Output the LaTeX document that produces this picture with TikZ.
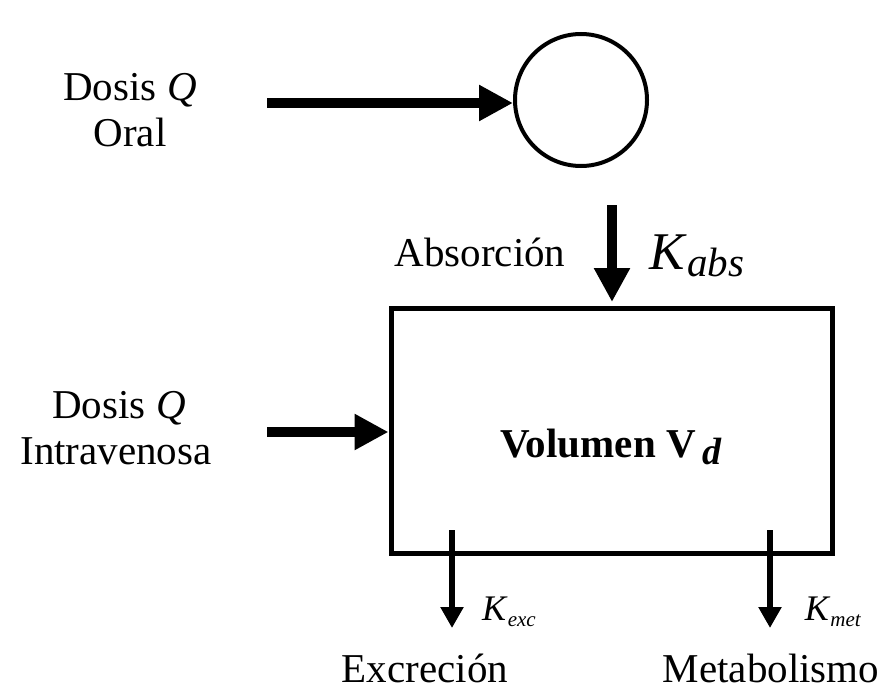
\documentclass[tikz,border=0pt]{standalone}
\usepackage{fontspec}
\setmainfont{Liberation Serif}
\usetikzlibrary{arrows.meta}
\begin{document}
\begin{tikzpicture}[x=1pt,y=-1pt,
  lbl/.style={font=\fontsize{41}{46}\selectfont, inner sep=0pt, align=center},
  thick arrow/.style={line width=10pt, -{Triangle[length=34pt,width=34pt]}},
  thin arrow/.style={line width=5.5pt, -{Triangle[length=21pt,width=22pt]}},
  box/.style={draw, line width=5pt}]
\useasboundingbox (0,0) rectangle (886,693);
\node[circle, draw, line width=4pt, minimum size=132pt, inner sep=0pt] (c) at (581,100) {};
\node[box, minimum width=441pt, minimum height=245pt, inner sep=0pt] (b) at (611.5,430.5) {};
\node[lbl] (d1) at (130,110) {Dosis \textit{Q}\\Oral};
\node[lbl] (d2) at (116,428) {\hspace*{6pt}Dosis \textit{Q}\\Intravenosa};
\node[lbl] (abs) at (480,252) {Absorción};
\node[font=\fontsize{53}{56}\selectfont, inner sep=0pt] (kabs) at (697,256) {\textit{K}\raisebox{-0.3ex}{\fontsize{41}{41}\selectfont\textit{abs}}};
\node[font=\fontsize{41}{46}\selectfont\bfseries, inner sep=0pt] (vol) at (611,447) {Volumen V\,\raisebox{-0.35ex}{\fontsize{38}{38}\selectfont\textit{d}}};
\coordinate (s1) at (267,103);
\coordinate (s2) at (267,432);
\coordinate (ta) at (612,205);
\coordinate (tb) at (612,302);
\coordinate (e1) at (452,628);
\coordinate (e2) at (770,628);
\coordinate (a1) at (452,530);
\coordinate (a2) at (770,530);
\draw[thick arrow] (s1) -- (s1 -| c.west);
\draw[thick arrow] (s2) -- (s2 -| b.west);
\draw[thick arrow] (ta) -- (tb);
\draw[thin arrow] (a1) -- (e1);
\draw[thin arrow] (a2) -- (e2);
\node[font=\fontsize{36}{38}\selectfont, inner sep=0pt] (kexc) at (509,612) {\textit{K}\raisebox{-0.4ex}{\fontsize{21}{21}\selectfont\textit{exc}}};
\node[font=\fontsize{36}{38}\selectfont, inner sep=0pt] (kmet) at (833,612) {\textit{K}\raisebox{-0.4ex}{\fontsize{21}{21}\selectfont\textit{met}}};
\node[lbl] (exc) at (425,668) {Excreción};
\node[lbl] (met) at (771,668) {Metabolismo};
\end{tikzpicture}
\end{document}
